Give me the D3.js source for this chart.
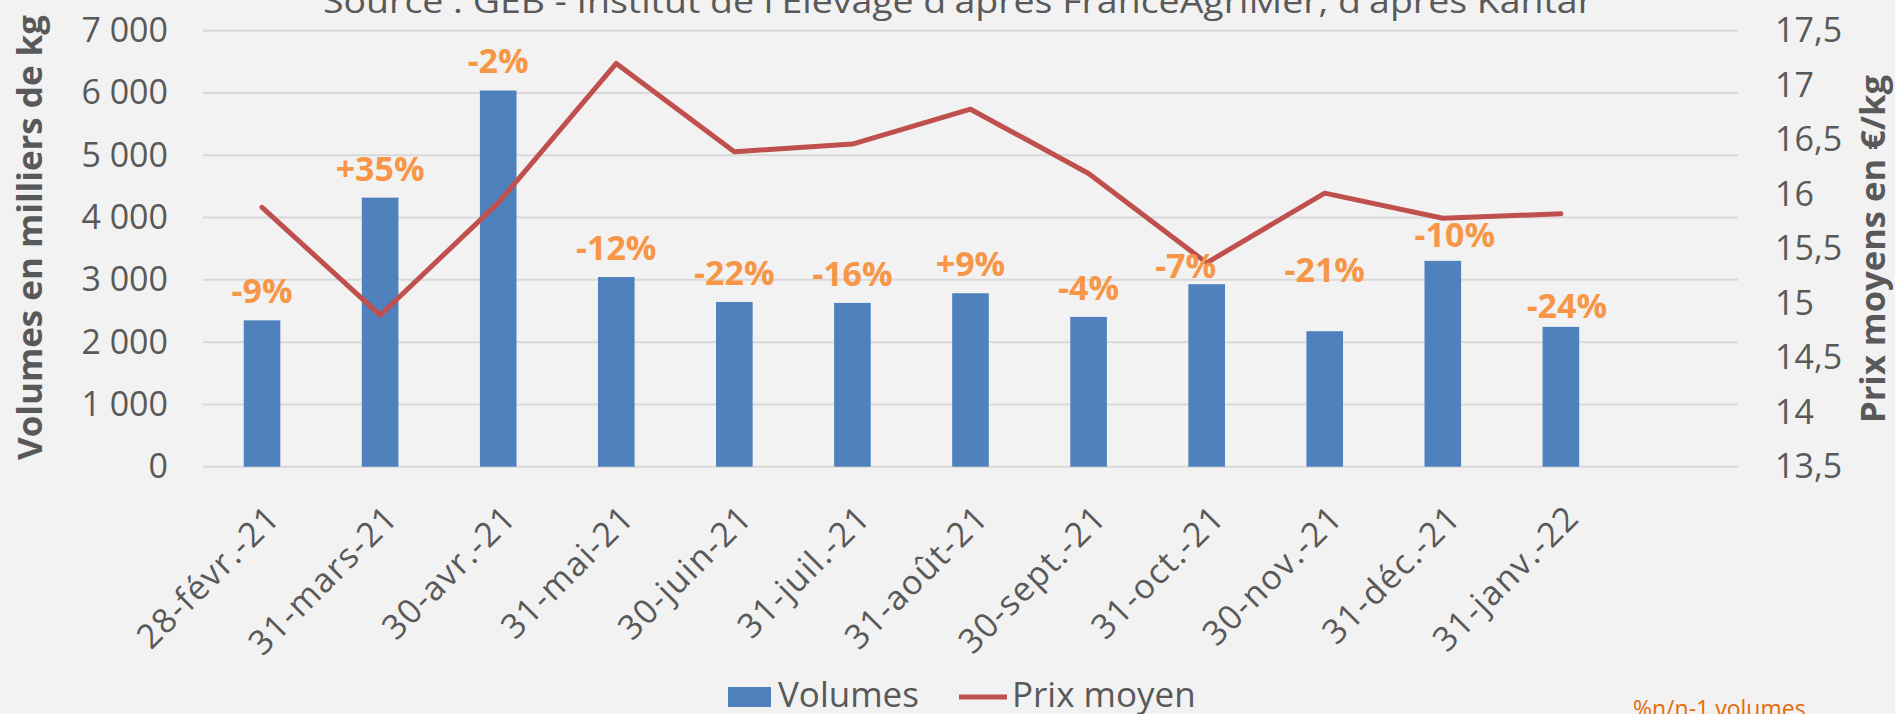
<!DOCTYPE html>
<html>
<head>
<meta charset="utf-8">
<script src="https://cdn.jsdelivr.net/npm/d3@7"></script>
<style>
  html, body { margin: 0; padding: 0; background: #F2F2F2; }
  svg { display: block; }
</style>
</head>
<body>
<div id="chart"></div>
<script>
// Volumes et prix moyens — chart data
const months = ['28-févr.-21', '31-mars-21', '30-avr.-21', '31-mai-21', '30-juin-21', '31-juil.-21',
  '31-août-21', '30-sept.-21', '31-oct.-21', '30-nov.-21', '31-déc.-21', '31-janv.-22'];
const volumes = [2350, 4320, 6040, 3045, 2645, 2630, 2785, 2405, 2930, 2175, 3305, 2245];
const prices = [15.88, 14.89, 15.92, 17.20, 16.39, 16.46, 16.78, 16.19, 15.37, 16.01, 15.78, 15.82];
const changes = ['-9%', '+35%', '-2%', '-12%', '-22%', '-16%', '+9%', '-4%', '-7%', '-21%', '-10%', '-24%'];
const volumeTicks = [0, 1000, 2000, 3000, 4000, 5000, 6000, 7000];
const priceTicks = [13.5, 14, 14.5, 15, 15.5, 16, 16.5, 17, 17.5];

(function () {
  const W = 1895, H = 714;
  const COLORS = {
    bg: '#F2F2F2', grid: '#D9D9D9', text: '#595959',
    bar: '#4F81BD', line: '#C0504D', label: '#F79646', note: '#E46C0A'
  };
  const FONT = "'Open Sans', 'DejaVu Sans', sans-serif";

  // hand-moved data labels in the original (dx, dy in px)
  const labelNudge = { 8: [-21, 11], 9: [0, -32], 10: [12, 3], 11: [6, 8] };

  const plot = { left: 203, right: 1738, top: 30.7, bottom: 466.7 };

  const svg = d3.select('#chart').append('svg')
    .attr('width', W).attr('height', H)
    .style('font-family', FONT);

  svg.append('rect').attr('width', W).attr('height', H).attr('fill', COLORS.bg);

  // 13 slots: Excel left one empty category at the end
  const slots = months.concat(['']);
  const x = d3.scaleBand().domain(d3.range(slots.length)).range([plot.left, plot.right]);
  const yVol = d3.scaleLinear().domain([0, 7000]).range([plot.bottom, plot.top]);
  const yPrice = d3.scaleLinear().domain([13.5, 17.5]).range([plot.bottom, plot.top]);
  const cx = i => x(i) + x.bandwidth() / 2;
  const barW = x.bandwidth() * 0.31;

  const fr = d3.formatLocale({ decimal: ',', thousands: ' ', grouping: [3], currency: ['', '€'] });
  const fmtVol = fr.format(',d');
  const fmtPrice = v => String(v).replace('.', ',');

  // grid
  svg.append('g').selectAll('line').data(volumeTicks).join('line')
    .attr('x1', plot.left).attr('x2', plot.right)
    .attr('y1', d => yVol(d)).attr('y2', d => yVol(d))
    .attr('stroke', COLORS.grid).attr('stroke-width', 2);

  // left axis labels
  const leftAxis = svg.append('g').attr('transform', `translate(${plot.left},0)`)
    .call(d3.axisLeft(yVol).tickValues(volumeTicks).tickFormat(fmtVol).tickSize(0).tickPadding(35));
  leftAxis.select('.domain').remove();
  leftAxis.selectAll('text').attr('fill', COLORS.text).attr('font-size', 34).attr('font-family', FONT);

  // right axis labels
  const rightAxis = svg.append('g').attr('transform', `translate(${plot.right},0)`)
    .call(d3.axisRight(yPrice).tickValues(priceTicks).tickFormat(fmtPrice).tickSize(0).tickPadding(37));
  rightAxis.select('.domain').remove();
  rightAxis.selectAll('text').attr('fill', COLORS.text).attr('font-size', 34).attr('font-family', FONT);

  // category labels, rotated
  svg.append('g').selectAll('text').data(months).join('text')
    .attr('transform', (d, i) => `translate(${cx(i) + 20},${plot.bottom + 53}) rotate(-45)`)
    .attr('text-anchor', 'end')
    .attr('fill', COLORS.text).attr('font-size', 34).attr('letter-spacing', 1.4)
    .text(d => d);

  // bars
  svg.append('g').selectAll('rect').data(volumes).join('rect')
    .attr('x', (d, i) => cx(i) - barW / 2)
    .attr('width', barW)
    .attr('y', d => yVol(d))
    .attr('height', d => yVol(0) - yVol(d))
    .attr('fill', COLORS.bar);

  // price line
  const line = d3.line().x((d, i) => cx(i)).y(d => yPrice(d));
  svg.append('path').datum(prices)
    .attr('d', line)
    .attr('fill', 'none').attr('stroke', COLORS.line)
    .attr('stroke-width', 5).attr('stroke-linecap', 'round').attr('stroke-linejoin', 'round');

  // % n/n-1 labels
  svg.append('g').selectAll('text').data(changes).join('text')
    .attr('x', (d, i) => cx(i) + (labelNudge[i] ? labelNudge[i][0] : 0))
    .attr('y', (d, i) => yVol(volumes[i]) - 17 + (labelNudge[i] ? labelNudge[i][1] : 0))
    .attr('text-anchor', 'middle')
    .attr('fill', COLORS.label).attr('font-size', 34).attr('font-weight', 700)
    .text(d => d);

  // title (cut at top edge in the original)
  svg.append('text')
    .attr('x', 323).attr('y', 13)
    .attr('textLength', 1270).attr('lengthAdjust', 'spacingAndGlyphs')
    .attr('fill', COLORS.text).attr('font-size', 32)
    .text("Source : GEB - Institut de l'Elevage d'après FranceAgriMer, d'après Kantar");

  // axis titles
  svg.append('text')
    .attr('transform', 'translate(42,460) rotate(-90)')
    .attr('textLength', 445).attr('lengthAdjust', 'spacingAndGlyphs')
    .attr('fill', COLORS.text).attr('font-size', 34).attr('font-weight', 700)
    .text('Volumes en milliers de kg');
  svg.append('text')
    .attr('transform', 'translate(1885,423) rotate(-90)')
    .attr('textLength', 348).attr('lengthAdjust', 'spacingAndGlyphs')
    .attr('fill', COLORS.text).attr('font-size', 34).attr('font-weight', 700)
    .text('Prix moyens en €/kg');

  // legend
  const lg = svg.append('g');
  lg.append('rect').attr('x', 728).attr('y', 687).attr('width', 43).attr('height', 20).attr('fill', COLORS.bar);
  lg.append('text').attr('x', 778).attr('y', 707).attr('fill', COLORS.text).attr('font-size', 35).text('Volumes');
  lg.append('line').attr('x1', 959).attr('x2', 1007).attr('y1', 697).attr('y2', 697)
    .attr('stroke', COLORS.line).attr('stroke-width', 5);
  lg.append('text').attr('x', 1012).attr('y', 707).attr('fill', COLORS.text).attr('font-size', 35).text('Prix moyen');

  // note
  svg.append('text').attr('x', 1633).attr('y', 717)
    .attr('fill', COLORS.note).attr('font-size', 23)
    .text('%n/n-1 volumes');
})();
</script>
</body>
</html>
